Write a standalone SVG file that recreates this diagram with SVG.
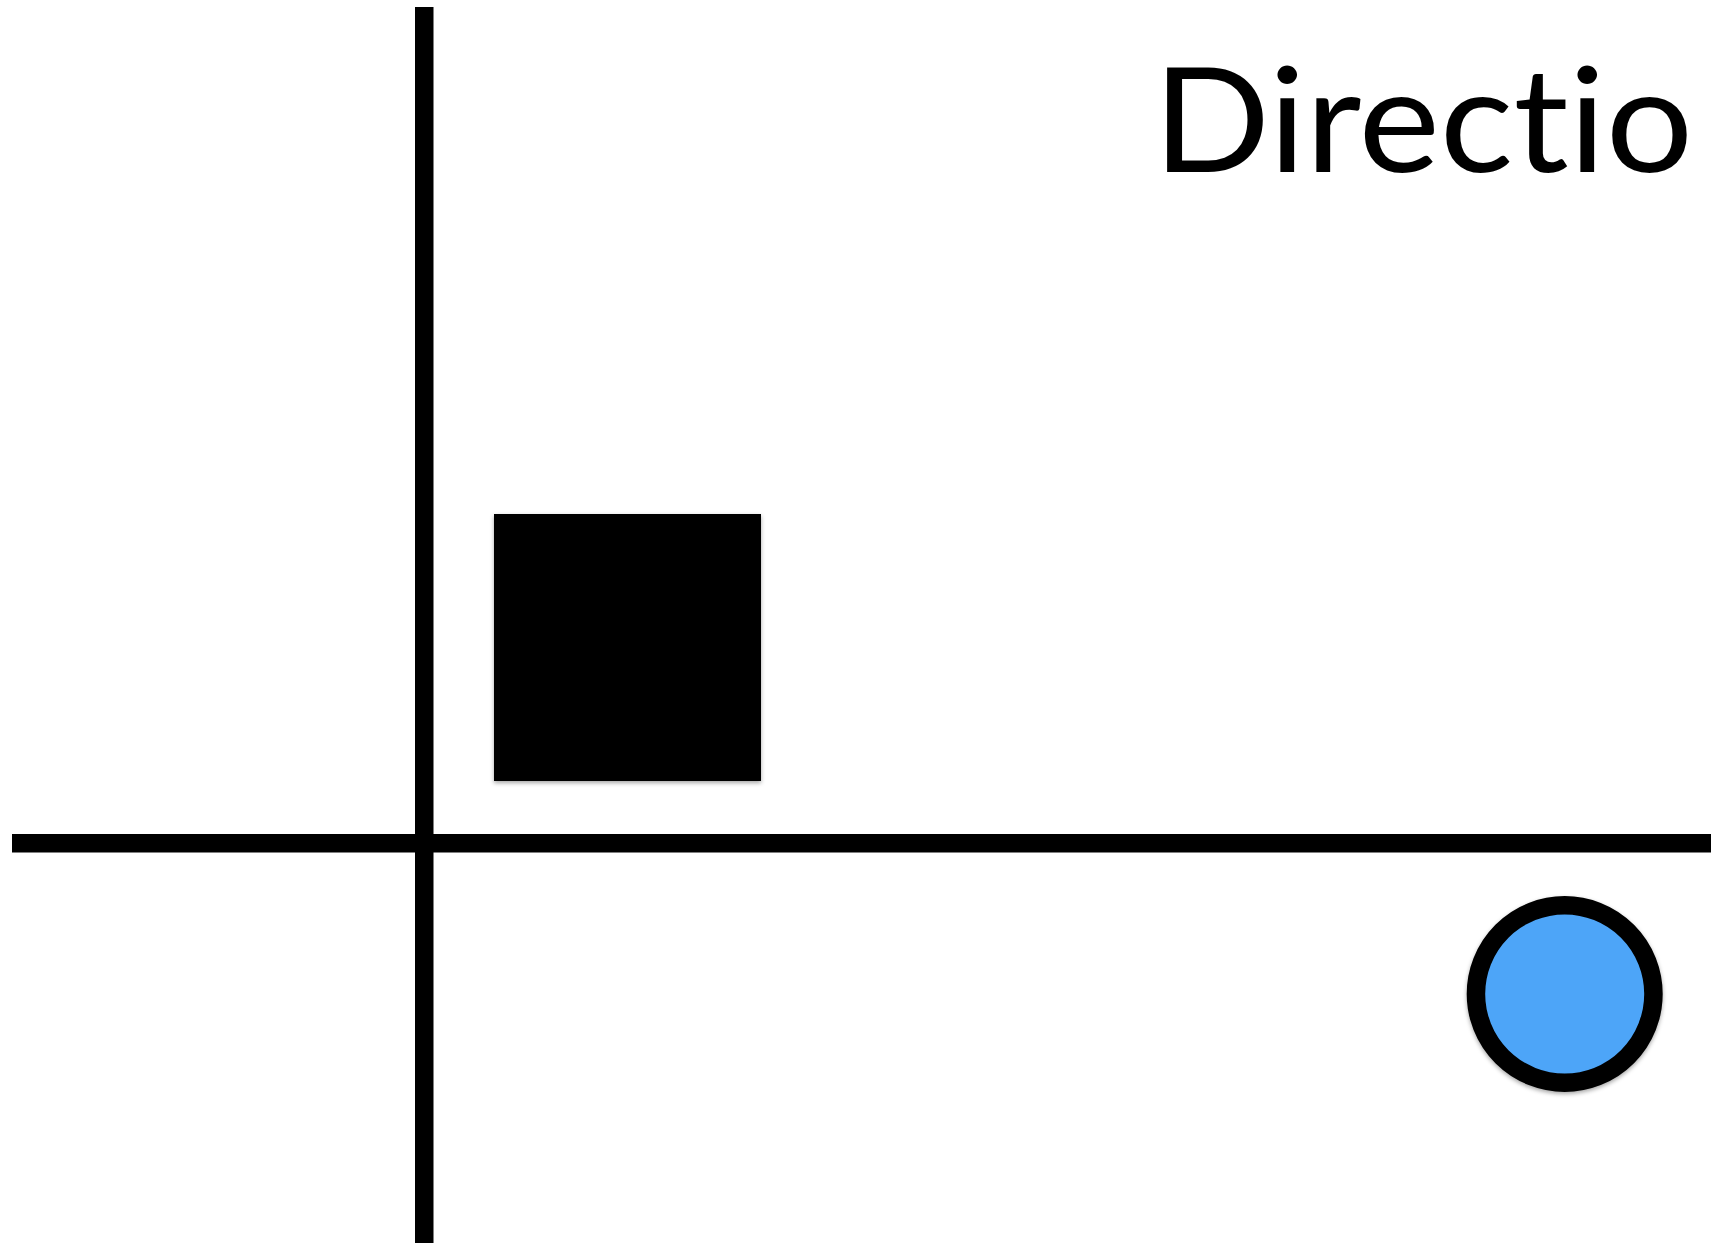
<svg xmlns="http://www.w3.org/2000/svg" width="1711" height="1243" viewBox="0 0 1711 1243">
  <defs>
    <filter id="sh" x="-10%" y="-10%" width="120%" height="120%">
      <feDropShadow dx="0" dy="2" stdDeviation="2" flood-color="#000" flood-opacity="0.35"/>
    </filter>
    <style>
      .axis { fill: #000; }
      .title { font-family: Lato, "Open Sans", sans-serif; font-size: 146px; fill: #000; font-variant-ligatures: none; font-feature-settings: "liga" 0, "clig" 0; }
    </style>
  </defs>
  <rect width="1711" height="1243" fill="#fff"/>
  <g id="axes">
    <rect class="axis" x="415" y="7" width="18.5" height="1236"/>
    <rect class="axis" x="12" y="834" width="1699" height="18.5"/>
  </g>
  <g id="title">
    <text class="title" x="1153" y="171.5" textLength="540" lengthAdjust="spacingAndGlyphs">Directio</text>
  </g>
  <g id="square">
    <rect x="494" y="514" width="267" height="267" fill="#000" filter="url(#sh)"/>
  </g>
  <g id="circle">
    <circle cx="1564.7" cy="994" r="88.75" fill="#4DA5F8" stroke="#000" stroke-width="18.5" filter="url(#sh)"/>
  </g>
  <g id="connectors"/>
</svg>
